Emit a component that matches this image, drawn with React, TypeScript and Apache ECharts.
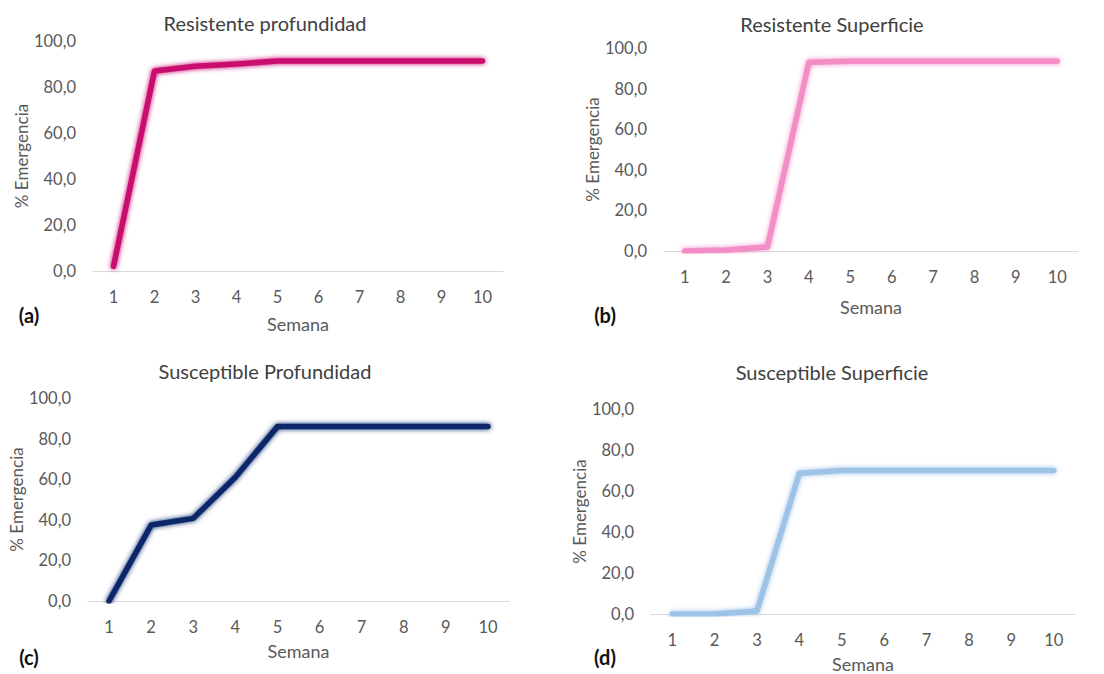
import React, { useEffect, useRef } from "react";
import * as echarts from "echarts";

const weeks = ["1", "2", "3", "4", "5", "6", "7", "8", "9", "10"];
const resistenteProfundidad = [2, 87, 89, 90, 91.3, 91.3, 91.3, 91.3, 91.3, 91.3];
const resistenteSuperficie = [0, 0.5, 2, 93, 93.5, 93.5, 93.5, 93.5, 93.5, 93.5];
const susceptibleProfundidad = [0, 37.4, 40.7, 61, 85.9, 85.9, 85.9, 85.9, 85.9, 85.9];
const susceptibleSuperficie = [0, 0, 1.5, 68.7, 70, 70, 70, 70, 70, 70];
const titles = ["Resistente profundidad", "Resistente Superficie", "Susceptible Profundidad", "Susceptible Superficie"];
const panelLetters = ["(a)", "(b)", "(c)", "(d)"];
const colors = ["#C8106E", "#F28DC6", "#10286A", "#9DC3E6"];

const FONT = "Lato, 'Open Sans', sans-serif";

export default function App() {
  const ref = useRef<HTMLDivElement>(null);
  useEffect(() => {
    if (!ref.current) return;
    const chart = echarts.init(ref.current, null, { renderer: "svg" });
    const seriesData = [resistenteProfundidad, resistenteSuperficie, susceptibleProfundidad, susceptibleSuperficie];
    const grids = [
      { left: 93, right: 601, top: 41, bottom: 403 },
      { left: 664, right: 26, top: 48, bottom: 423 },
      { left: 88, right: 595, top: 398, bottom: 73 },
      { left: 651, right: 29, top: 409, bottom: 58 },
    ];
    const yNameGaps = [61, 62, 56, 56];
    const xNameGaps = [44, 47, 41, 41];
    const titlePos = [
      { x: 265, y: 24 },
      { x: 832, y: 25 },
      { x: 265, y: 372 },
      { x: 832, y: 373 },
    ];
    const letterPos = [
      { x: 29, y: 315 },
      { x: 605, y: 315 },
      { x: 29, y: 657 },
      { x: 605, y: 657 },
    ];
    chart.setOption({
      animation: false,
      backgroundColor: "#ffffff",
      title: titles.map((t, i) => ({
        text: t,
        left: titlePos[i].x,
        top: titlePos[i].y - 11,
        textAlign: "center",
        padding: 0,
        textStyle: { fontFamily: FONT, fontSize: 20, fontWeight: "normal", color: "#404040" },
      })),
      grid: grids.map((g) => ({ ...g, containLabel: false })),
      xAxis: grids.map((_, i) => ({
        type: "category",
        gridIndex: i,
        data: weeks,
        boundaryGap: true,
        name: "Semana",
        nameLocation: "middle",
        nameGap: xNameGaps[i],
        nameTextStyle: { fontFamily: FONT, fontSize: 18, color: "#595959" },
        axisLine: { lineStyle: { color: "#d9d9d9", width: 1 } },
        axisTick: { show: false },
        axisLabel: { fontFamily: FONT, fontSize: 16.5, color: "#595959", margin: 17 },
        splitLine: { show: false },
      })),
      yAxis: grids.map((_, i) => ({
        type: "value",
        gridIndex: i,
        min: 0,
        max: 100,
        interval: 20,
        name: "% Emergencia",
        nameLocation: "middle",
        nameGap: yNameGaps[i],
        nameTextStyle: { fontFamily: FONT, fontSize: 17, color: "#595959" },
        axisLine: { show: false },
        axisTick: { show: false },
        splitLine: { show: false },
        axisLabel: {
          fontFamily: FONT,
          fontSize: 16.5,
          color: "#595959",
          margin: 17,
          formatter: (v: number) => v.toFixed(1).replace(".", ","),
        },
      })),
      series: seriesData.map((d, i) => ({
        type: "line",
        xAxisIndex: i,
        yAxisIndex: i,
        data: d,
        symbol: "none",
        lineStyle: {
          color: colors[i],
          width: 5.5,
          cap: "round",
          join: "round",
          shadowColor: colors[i],
          shadowBlur: 5,
        },
      })),
      graphic: panelLetters.map((l, i) => ({
        type: "text",
        x: letterPos[i].x,
        y: letterPos[i].y,
        style: {
          text: l,
          fontFamily: FONT,
          fontSize: 20,
          fontWeight: "bold",
          fill: "#111111",
          textAlign: "center",
          textVerticalAlign: "middle",
        },
      })),
    });
    return () => chart.dispose();
  }, []);
  return (
    <div
      ref={ref}
      style={{ position: "fixed", left: 0, top: 0, width: 1104, height: 674 }}
    />
  );
}
